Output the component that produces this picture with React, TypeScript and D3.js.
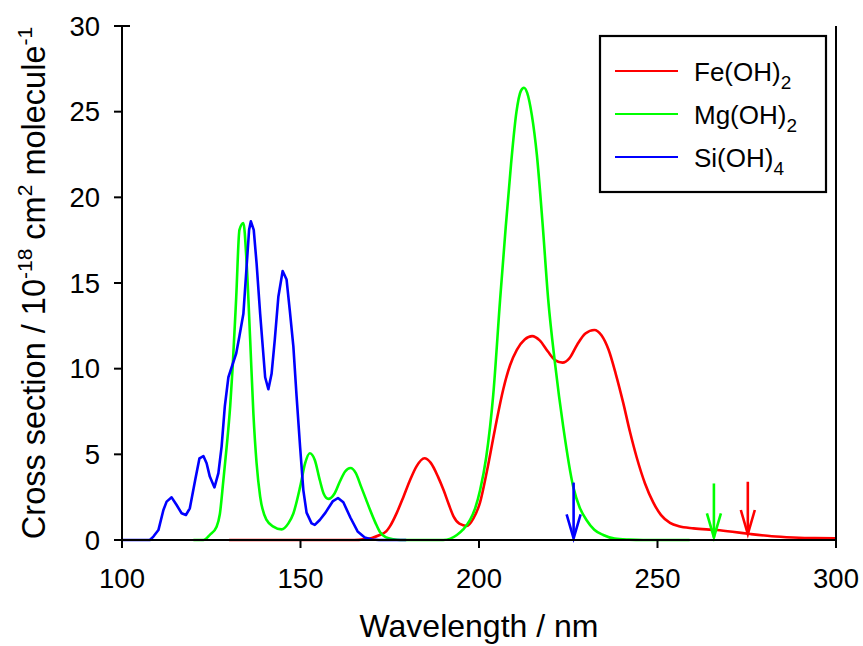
import React from "react";
import * as d3 from "d3";

// ---- data ----
const feWl = [130, 165, 168, 170, 172, 174, 175, 177, 178.8, 180.5, 182.5, 184.7, 186.5, 188.5, 190.1, 191.5, 192.9, 194.5, 196.6, 198.4, 200.3, 202.2, 204.5, 206.8, 208.7, 210.6, 212.8, 214.9, 217, 219.3, 221.3, 223.4, 225.3, 227.5, 229.8, 232.3, 234.3, 236.3, 238.3, 240.4, 242.3, 244.2, 246.5, 248.8, 251, 253.5, 256, 260.1, 266.6, 271, 276, 282, 288, 294, 300];
const feVal = [0, 0, 0.05, 0.12, 0.28, 0.5, 0.78, 1.6, 2.5, 3.4, 4.3, 4.77, 4.5, 3.7, 2.9, 2.1, 1.36, 0.95, 0.82, 1.25, 2.2, 4.0, 6.5, 8.8, 10.2, 11.1, 11.7, 11.9, 11.65, 11.0, 10.5, 10.35, 10.6, 11.4, 12.05, 12.26, 11.95, 11.1, 9.7, 8.0, 6.3, 4.8, 3.3, 2.2, 1.45, 1.0, 0.8, 0.68, 0.58, 0.48, 0.35, 0.22, 0.15, 0.11, 0.1];

const mgWl = [120, 122.8, 124.6, 126.5, 127.4, 128.4, 129.3, 130.3, 131, 132, 132.9, 134, 134.9, 135.9, 136.8, 137.7, 138.7, 140.5, 142.4, 144.7, 146.6, 148, 149.9, 151.3, 152.6, 154, 155.4, 156.5, 157.8, 159.5, 161, 162.5, 164, 165.5, 167, 168.3, 169.5, 171, 172.3, 174, 176, 178, 190, 192, 193.8, 195.5, 197.5, 199, 200.3, 202, 204, 205.9, 207.5, 209, 210.5, 211.7, 212.6, 213.5, 214.8, 216.2, 217.8, 219.4, 221.3, 223.6, 226.4, 228.2, 230.1, 232.3, 234.8, 238, 242, 246, 259];
const mgVal = [0, 0, 0.3, 0.78, 1.5, 3.5, 5.4, 7.8, 10.1, 14.2, 18.1, 18.5, 16.2, 11.7, 7.4, 4.48, 2.53, 1.17, 0.78, 0.62, 0.97, 1.55, 3.1, 4.48, 5.06, 4.67, 3.5, 2.7, 2.4, 2.7, 3.4, 4.0, 4.2, 3.9, 3.1, 2.4, 1.75, 1.0, 0.45, 0.15, 0.04, 0, 0, 0.08, 0.29, 0.6, 1.17, 1.9, 2.9, 4.8, 8.5, 14, 18.3, 22, 25, 26.2, 26.4, 26.1, 24.8, 22.5, 18.5, 14, 10.3, 6.6, 3.1, 1.9, 1.17, 0.6, 0.29, 0.08, 0.02, 0, 0];

const siWl = [100, 107.8, 108.8, 110.2, 111.6, 112.5, 113.9, 115.3, 116.7, 117.9, 119, 120.5, 121.7, 122.8, 123.7, 124.6, 125.9, 127, 127.9, 128.8, 129.8, 132, 132.9, 134, 134.9, 135.6, 136.1, 136.9, 137.7, 138.7, 140.1, 141, 141.9, 142.8, 143.8, 145, 146.1, 147, 148, 148.9, 149.9, 150.8, 151.7, 153.1, 154, 155.4, 157, 159, 160.5, 162, 164, 166, 168, 170, 172, 179.6];
const siVal = [0, 0, 0.2, 0.58, 1.75, 2.24, 2.49, 2.04, 1.56, 1.46, 1.85, 3.5, 4.77, 4.9, 4.48, 3.7, 3.07, 3.9, 5.45, 7.8, 9.5, 10.9, 11.9, 13.2, 15.95, 18.1, 18.6, 18.1, 16.15, 13.2, 9.5, 8.8, 9.7, 11.7, 14.2, 15.7, 15.2, 13.4, 11.3, 8.4, 5.4, 2.9, 1.6, 0.97, 0.88, 1.17, 1.6, 2.25, 2.45, 2.2, 1.3, 0.5, 0.15, 0.03, 0, 0];

// arrows: wavelength, top value, tip value
const arrowWl = [226.5, 265.8, 275.3];
const arrowTop = [3.35, 3.3, 3.4];
const arrowTip = [0.1, 0.15, 0.35];
const arrowColors = ["#0000FF", "#00FF00", "#FF0000"];

const seriesNames = ["Fe(OH)", "Mg(OH)", "Si(OH)"];
const seriesSubs = ["2", "2", "4"];
const seriesColors = ["#FF0000", "#00FF00", "#0000FF"];

const xTicks = [100, 150, 200, 250, 300];
const yTicks = [0, 5, 10, 15, 20, 25, 30];

const W = 863;
const H = 646;
const FONT = "Liberation Sans, Arial, Helvetica, sans-serif";

export default function App() {
  const x = d3.scaleLinear().domain([100, 300]).range([122, 836]);
  const y = d3.scaleLinear().domain([0, 30]).range([540, 26]);

  const smooth = d3
    .line<[number, number]>()
    .x((d) => x(d[0]))
    .y((d) => y(d[1]))
    .curve(d3.curveMonotoneX);
  const straight = d3
    .line<[number, number]>()
    .x((d) => x(d[0]))
    .y((d) => y(d[1]))
    .curve(d3.curveLinear);

  const fe = feWl.map((w, i) => [w, feVal[i]] as [number, number]);
  const mg = mgWl.map((w, i) => [w, mgVal[i]] as [number, number]);
  const si = siWl.map((w, i) => [w, siVal[i]] as [number, number]);

  const paths = [
    { d: smooth(fe), c: seriesColors[0] },
    { d: smooth(mg), c: seriesColors[1] },
    { d: straight(si), c: seriesColors[2] },
  ];

  const legX = 600;
  const legY = 36;
  const legW = 226;
  const legH = 156;
  const legRowY = [71, 114, 157];

  return (
    <svg
      width={W}
      height={H}
      style={{ position: "absolute", left: 0, top: 0, background: "#fff" }}
      fontFamily={FONT}
    >
      <rect x={0} y={0} width={W} height={H} fill="#fff" />
      {/* curves */}
      {paths.map((p, i) => (
        <path key={i} d={p.d || ""} fill="none" stroke={p.c} strokeWidth={2.6} strokeLinejoin="round" />
      ))}
      {/* arrows */}
      {arrowWl.map((w, i) => {
        const ax = x(w);
        const yt = y(arrowTop[i]);
        const yb = y(arrowTip[i]);
        return (
          <g key={i} stroke={arrowColors[i]} strokeWidth={2.6} fill="none">
            <line x1={ax} x2={ax} y1={yt} y2={yb} />
            <polyline points={`${ax - 7},${yb - 24} ${ax},${yb} ${ax + 7},${yb - 24}`} />
          </g>
        );
      })}
      {/* axes */}
      <g stroke="#000" strokeWidth={2}>
        <line x1={x(100)} x2={x(100)} y1={y(30)} y2={y(0)} />
        <line x1={x(300)} x2={x(300)} y1={y(30)} y2={y(0) + 8} />
        <line x1={x(100) - 8} x2={x(300)} y1={y(0)} y2={y(0)} />
        {xTicks.map((t) => (
          <line key={t} x1={x(t)} x2={x(t)} y1={y(0)} y2={y(0) + 8} />
        ))}
        {yTicks.map((t) => (
          <line key={t} x1={x(100) - 8} x2={t === 30 ? x(100) + 8 : x(100)} y1={y(t)} y2={y(t)} />
        ))}
      </g>
      {xTicks.map((t) => (
        <text key={t} x={x(t)} y={588} textAnchor="middle" fontSize={27.5} fill="#000">
          {t}
        </text>
      ))}
      {yTicks.map((t) => (
        <text key={t} x={100} y={y(t) + 9.5} textAnchor="end" fontSize={27.5} fill="#000">
          {t}
        </text>
      ))}
      {/* axis titles */}
      <text x={(x(100) + x(300)) / 2} y={637} textAnchor="middle" fontSize={32} fill="#000">
        Wavelength / nm
      </text>
      <text
        transform={`translate(45, ${(y(0) + y(30)) / 2}) rotate(-90)`}
        textAnchor="middle"
        fontSize={32.5}
        fill="#000"
      >
        Cross section / 10
        <tspan fontSize={21} dy={-13}>-18</tspan>
        <tspan dy={13}> cm</tspan>
        <tspan fontSize={21} dy={-13}>2</tspan>
        <tspan dy={13}> molecule</tspan>
        <tspan fontSize={21} dy={-13}>-1</tspan>
      </text>
      {/* legend */}
      <rect x={legX} y={legY} width={legW} height={legH} fill="#fff" stroke="#000" strokeWidth={2.2} />
      {seriesNames.map((n, i) => (
        <g key={n}>
          <line x1={615} x2={678} y1={legRowY[i]} y2={legRowY[i]} stroke={seriesColors[i]} strokeWidth={2.2} />
          <text x={694} y={legRowY[i] + 10} fontSize={26} fill="#000">
            {n}
            <tspan fontSize={19} dy={8}>{seriesSubs[i]}</tspan>
          </text>
        </g>
      ))}
    </svg>
  );
}
